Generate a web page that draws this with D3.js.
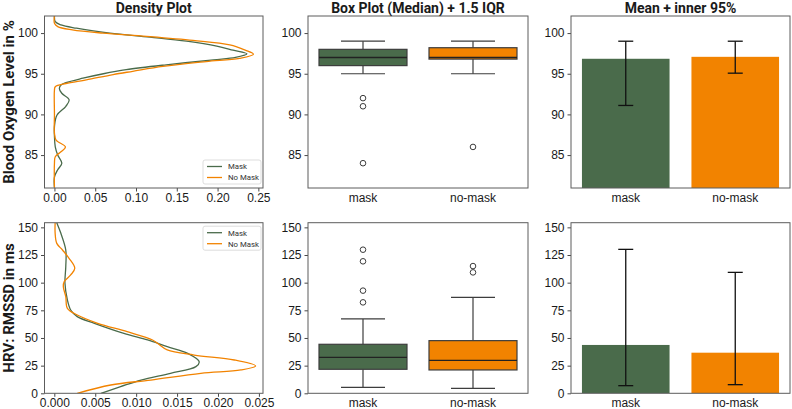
<!DOCTYPE html>
<html>
<head>
<meta charset="utf-8">
<script src="https://cdn.jsdelivr.net/npm/d3@7"></script>
<style>
  html, body { margin: 0; padding: 0; background: #fff; }
  svg { display: block; font-family: Roboto, "Liberation Sans", sans-serif; }
</style>
</head>
<body>
<svg id="chart" width="792" height="409"></svg>
<script>
// ---------------- DATA ----------------
const categories = ["mask", "no-mask"];
const seriesNames = ["Mask", "No Mask"];
const colTitles = ["Density Plot", "Box Plot (Median) + 1.5 IQR", "Mean + inner 95%"];
const rowLabels = ["Blood Oxygen Level in %", "HRV: RMSSD in ms"];

// Blood oxygen ticks
const oxyTicks = [85, 90, 95, 100];
const oxyDensityTicks = [0.00, 0.05, 0.10, 0.15, 0.20, 0.25];
// HRV ticks
const hrvTicks = [0, 25, 50, 75, 100, 125, 150];
const hrvDensityTicks = [0.000, 0.005, 0.010, 0.015, 0.020, 0.025];

// Density curves: level (y) and density (x)
const oxyMaskLevel   = [102.1, 101.4, 101.0, 100.6, 100.0, 99.5, 99.0, 98.4, 97.9, 97.45, 97.0, 96.7, 96.1, 95.5, 95.0, 94.45, 93.9, 93.6, 93.2, 92.6, 91.8, 91.0, 89.9, 88.5, 87.3, 86.0, 85.0, 84.0, 83.2, 82.3, 81.0];
const oxyMaskDensity = [0.000, 0.001, 0.008, 0.027, 0.068, 0.117, 0.162, 0.199, 0.219, 0.236, 0.222, 0.195, 0.137, 0.088, 0.060, 0.035, 0.014, 0.008, 0.006, 0.009, 0.018, 0.014, 0.003, 0.000, 0.000, 0.001, 0.004, 0.009, 0.004, 0.000, 0.000];
const oxyNoMaskLevel   = [102.1, 101.2, 100.8, 100.4, 100.0, 99.6, 99.1, 98.55, 97.9, 97.4, 96.9, 96.5, 95.9, 95.3, 94.9, 94.25, 93.8, 93.4, 93.0, 90.0, 87.7, 86.85, 86.0, 85.4, 84.8, 84.0, 81.0];
const oxyNoMaskDensity = [0.000, 0.000, 0.004, 0.022, 0.059, 0.113, 0.170, 0.215, 0.234, 0.244, 0.227, 0.186, 0.133, 0.096, 0.072, 0.039, 0.014, 0.001, 0.000, 0.000, 0.000, 0.002, 0.0135, 0.008, 0.001, 0.000, 0.000];

const hrvMaskLevel   = [154.2, 144.6, 129.5, 114.5, 99.4, 84.3, 75.3, 69.3, 63.3, 54.2, 48.2, 42.2, 36.1, 28.6, 24.1, 18.1, 12.0, 6.0, 0.0];
const hrvMaskDensity = [0.0003, 0.0008, 0.0014, 0.0014, 0.0013, 0.0016, 0.0020, 0.0028, 0.0049, 0.0085, 0.0114, 0.0138, 0.0163, 0.0177, 0.0173, 0.0142, 0.0106, 0.0081, 0.0057];
const hrvNoMaskLevel   = [154.2, 144.6, 135.5, 129.5, 122.0, 113.0, 107.0, 100.9, 96.4, 87.3, 76.8, 70.8, 63.3, 55.7, 48.2, 45.2, 39.2, 34.6, 30.1, 24.7, 21.1, 18.1, 12.0, 7.5, 0.0];
const hrvNoMaskDensity = [0.0001, 0.0001, 0.0003, 0.0010, 0.0018, 0.0025, 0.0020, 0.0012, 0.0011, 0.0014, 0.0016, 0.0028, 0.0053, 0.0089, 0.0120, 0.0126, 0.0138, 0.0171, 0.0220, 0.0246, 0.0228, 0.0179, 0.0118, 0.0069, 0.0028];

// Box plot stats [whiskerLow, q1, median, q3, whiskerHigh]
const oxyBoxMask   = [95, 96, 97, 98, 99];
const oxyBoxNoMask = [95, 96.8, 97, 98.2, 99];
const oxyOutMask   = [92, 91, 84];
const oxyOutNoMask = [86];
const hrvBoxMask   = [5.4, 21.7, 32.5, 44.3, 67.2];
const hrvBoxNoMask = [4.5, 21.1, 29.8, 47.6, 86.7];
const hrvOutMask   = [129.8, 119.3, 92.8, 82.2];
const hrvOutNoMask = [115, 109.3];

// Mean + inner 95% interval
const oxyMeans = [96.84, 97.08];
const oxyLow   = [91.1, 95.07];
const oxyHigh  = [99.0, 99.0];
const hrvMeans = [43.7, 36.7];
const hrvLow   = [6.9, 7.8];
const hrvHigh  = [130.1, 109.3];

const colors = ["#4a6b4b", "#f28300"];

// ---------------- LAYOUT ----------------
const svg = d3.select("#chart");
const cols = [[44.5, 263], [308, 528], [571, 790]];
const rows = [[16, 188], [222.7, 393.3]];
const frameColor = "#5c5c5c";
const textColor = "#1a1a1a";

const rowDefs = [
  {
    yDomain: [80.95, 102.1], yTicks: oxyTicks,
    dens: [[oxyMaskLevel, oxyMaskDensity], [oxyNoMaskLevel, oxyNoMaskDensity]],
    xDomain: [-0.0122, 0.2557], xTicks: oxyDensityTicks, xFmt: d3.format(".2f"),
    box: [oxyBoxMask, oxyBoxNoMask], out: [oxyOutMask, oxyOutNoMask],
    means: oxyMeans, lo: oxyLow, hi: oxyHigh, legendPos: "bottom"
  },
  {
    yDomain: [0, 154.2], yTicks: hrvTicks,
    dens: [[hrvMaskLevel, hrvMaskDensity], [hrvNoMaskLevel, hrvNoMaskDensity]],
    xDomain: [-0.0012, 0.0255], xTicks: hrvDensityTicks, xFmt: d3.format(".3f"),
    box: [hrvBoxMask, hrvBoxNoMask], out: [hrvOutMask, hrvOutNoMask],
    means: hrvMeans, lo: hrvLow, hi: hrvHigh, legendPos: "top"
  }
];

function styleAxis(g) {
  g.selectAll(".domain").remove();
  g.selectAll(".tick line").attr("stroke", "#333").attr("stroke-width", 0.9);
  g.selectAll(".tick text").attr("fill", textColor).style("font-size", "12px");
}

function frame(x0, x1, y0, y1) {
  svg.append("rect").attr("x", x0).attr("y", y0).attr("width", x1 - x0).attr("height", y1 - y0)
    .attr("fill", "none").attr("stroke", frameColor).attr("stroke-width", 1);
}

rowDefs.forEach((R, ri) => {
  const [ry0, ry1] = rows[ri];
  const y = d3.scaleLinear().domain(R.yDomain).range([ry1, ry0]);

  // ---------- Density ----------
  {
    const [cx0, cx1] = cols[0];
    const x = d3.scaleLinear().domain(R.xDomain).range([cx0, cx1]);
    const clipId = "clipd" + ri;
    svg.append("clipPath").attr("id", clipId).append("rect")
      .attr("x", cx0).attr("y", ry0).attr("width", cx1 - cx0).attr("height", ry1 - ry0);
    const line = d3.line().x(d => x(d[1])).y(d => y(d[0])).curve(d3.curveCatmullRom.alpha(0.5));
    R.dens.forEach((pair, si) => {
      const pts = pair[0].map((lv, i) => [lv, pair[1][i]]);
      svg.append("path").attr("d", line(pts)).attr("fill", "none")
        .attr("stroke", colors[si]).attr("stroke-width", 1.3).attr("clip-path", `url(#${clipId})`);
    });
    svg.append("g").attr("transform", `translate(${cx0},0)`)
      .call(d3.axisLeft(y).tickValues(R.yTicks).tickSize(3.5).tickPadding(3)).call(styleAxis);
    svg.append("g").attr("transform", `translate(0,${ry1})`)
      .call(d3.axisBottom(x).tickValues(R.xTicks).tickFormat(R.xFmt).tickSize(3.5).tickPadding(1.5)).call(styleAxis);
    frame(cx0, cx1, ry0, ry1);

    // legend
    const lw = 58, lh = 24;
    const lx = cx1 - lw - 2;
    const ly = R.legendPos === "bottom" ? ry1 - lh - 4 : ry0 + 3.5;
    svg.append("rect").attr("x", lx).attr("y", ly).attr("width", lw).attr("height", lh)
      .attr("rx", 2).attr("fill", "#fff").attr("fill-opacity", 0.85)
      .attr("stroke", "#d4d4d4").attr("stroke-width", 0.8);
    seriesNames.forEach((nm, si) => {
      const yy = ly + 6.5 + si * 11;
      svg.append("line").attr("x1", lx + 4).attr("x2", lx + 19).attr("y1", yy).attr("y2", yy)
        .attr("stroke", colors[si]).attr("stroke-width", 1.3);
      svg.append("text").attr("x", lx + 25).attr("y", yy + 2.8).text(nm)
        .attr("fill", "#333").style("font-size", "7.8px");
    });
  }

  // ---------- Box plot ----------
  {
    const [cx0, cx1] = cols[1];
    const x = d3.scaleBand().domain(categories).range([cx0, cx1]).paddingInner(0.2).paddingOuter(0.1);
    const bw = x.bandwidth();
    const boxStroke = "#3d3d3d";
    categories.forEach((c, ci) => {
      const s = R.box[ci];
      const xc = x(c) + bw / 2;
      svg.append("line").attr("x1", xc).attr("x2", xc).attr("y1", y(s[0])).attr("y2", y(s[1]))
        .attr("stroke", boxStroke).attr("stroke-width", 1.2);
      svg.append("line").attr("x1", xc).attr("x2", xc).attr("y1", y(s[3])).attr("y2", y(s[4]))
        .attr("stroke", boxStroke).attr("stroke-width", 1.2);
      [s[0], s[4]].forEach(v => {
        svg.append("line").attr("x1", xc - bw / 4).attr("x2", xc + bw / 4).attr("y1", y(v)).attr("y2", y(v))
          .attr("stroke", boxStroke).attr("stroke-width", 1.2);
      });
      svg.append("rect").attr("x", x(c)).attr("y", y(s[3])).attr("width", bw).attr("height", y(s[1]) - y(s[3]))
        .attr("fill", colors[ci]).attr("stroke", boxStroke).attr("stroke-width", 1.2);
      svg.append("line").attr("x1", x(c)).attr("x2", x(c) + bw).attr("y1", y(s[2])).attr("y2", y(s[2]))
        .attr("stroke", "#222").attr("stroke-width", 1.3);
      R.out[ci].forEach(v => {
        svg.append("circle").attr("cx", xc).attr("cy", y(v)).attr("r", 2.8)
          .attr("fill", "#fff").attr("stroke", boxStroke).attr("stroke-width", 1);
      });
    });
    svg.append("g").attr("transform", `translate(${cx0},0)`)
      .call(d3.axisLeft(y).tickValues(R.yTicks).tickSize(3.5).tickPadding(3)).call(styleAxis);
    svg.append("g").attr("transform", `translate(0,${ry1})`)
      .call(d3.axisBottom(x).tickSize(0).tickPadding(5)).call(styleAxis);
    frame(cx0, cx1, ry0, ry1);
  }

  // ---------- Mean bars ----------
  {
    const [cx0, cx1] = cols[2];
    const x = d3.scaleBand().domain(categories).range([cx0, cx1]).paddingInner(0.2).paddingOuter(0.1);
    const bw = x.bandwidth();
    const clipId = "clipb" + ri;
    svg.append("clipPath").attr("id", clipId).append("rect")
      .attr("x", cx0).attr("y", ry0).attr("width", cx1 - cx0).attr("height", ry1 - ry0);
    categories.forEach((c, ci) => {
      const yTop = y(R.means[ci]);
      svg.append("rect").attr("x", x(c)).attr("y", yTop).attr("width", bw).attr("height", y(0) - yTop)
        .attr("fill", colors[ci]).attr("clip-path", `url(#${clipId})`);
      const xc = x(c) + bw / 2;
      svg.append("line").attr("x1", xc).attr("x2", xc).attr("y1", y(R.lo[ci])).attr("y2", y(R.hi[ci]))
        .attr("stroke", "#111").attr("stroke-width", 1.3);
      [R.lo[ci], R.hi[ci]].forEach(v => {
        svg.append("line").attr("x1", xc - 7.5).attr("x2", xc + 7.5).attr("y1", y(v)).attr("y2", y(v))
          .attr("stroke", "#111").attr("stroke-width", 1.3);
      });
    });
    svg.append("g").attr("transform", `translate(${cx0},0)`)
      .call(d3.axisLeft(y).tickValues(R.yTicks).tickSize(3.5).tickPadding(3)).call(styleAxis);
    svg.append("g").attr("transform", `translate(0,${ry1})`)
      .call(d3.axisBottom(x).tickSize(0).tickPadding(5)).call(styleAxis);
    frame(cx0, cx1, ry0, ry1);
  }

  // row label
  svg.append("text")
    .attr("transform", `translate(14,${(ry0 + ry1) / 2}) rotate(-90)`)
    .attr("text-anchor", "middle").attr("fill", textColor)
    .style("font-size", "15px").style("font-weight", "bold").text(rowLabels[ri]);
});

// column titles
colTitles.forEach((t, i) => {
  svg.append("text").attr("x", (cols[i][0] + cols[i][1]) / 2).attr("y", 13.2)
    .attr("text-anchor", "middle").attr("fill", textColor)
    .style("font-size", "14px").style("font-weight", "bold").text(t);
});
</script>
</body>
</html>
